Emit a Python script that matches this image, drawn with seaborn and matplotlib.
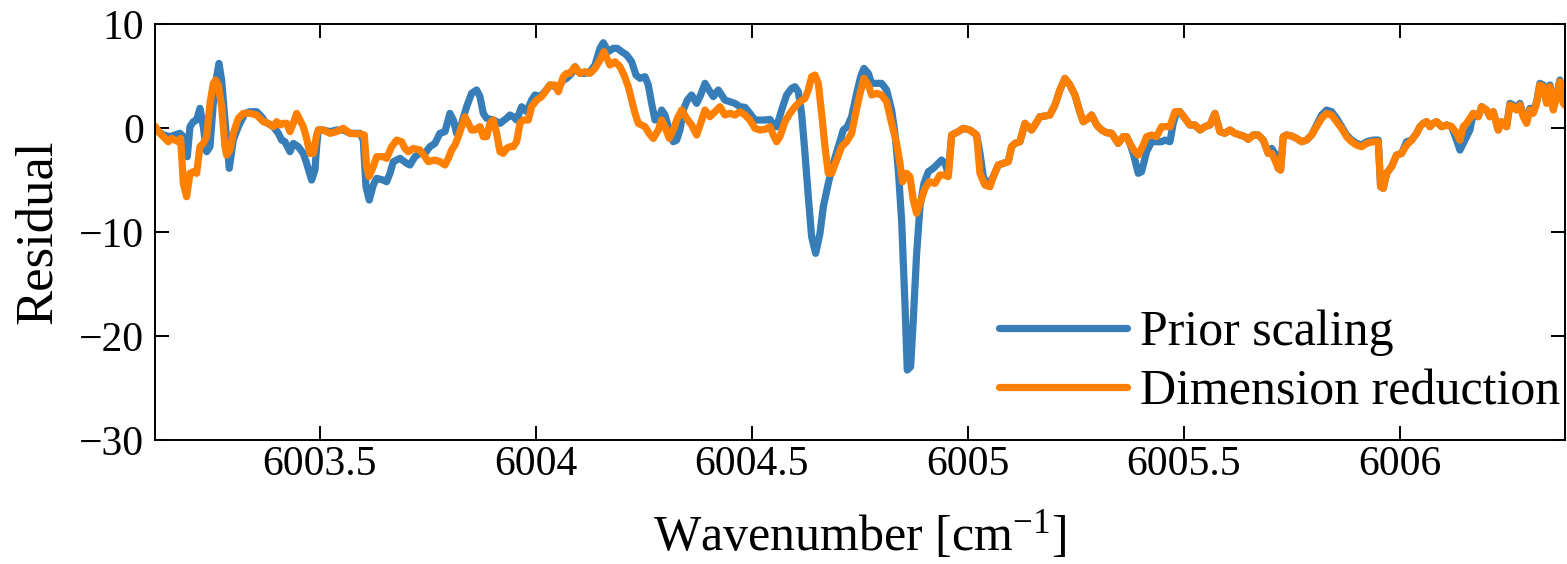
import matplotlib
matplotlib.use("Agg")
import matplotlib.pyplot as plt
import seaborn as sns

# Residual spectra
prior_wn = [
    6003.118, 6003.1373, 6003.1527, 6003.1643, 6003.1758, 6003.1836, 6003.1928, 6003.1990,
    6003.2067, 6003.2144, 6003.2221, 6003.2299, 6003.2376, 6003.2453, 6003.2530, 6003.2607,
    6003.2661, 6003.2723, 6003.2800, 6003.2900, 6003.2993, 6003.3109, 6003.3263, 6003.3379,
    6003.3533, 6003.3649, 6003.3726, 6003.3919, 6003.4035, 6003.4112, 6003.4189, 6003.4305,
    6003.4382, 6003.4498, 6003.4613, 6003.4690, 6003.4806, 6003.4883, 6003.4922, 6003.4961,
    6003.5076, 6003.5231, 6003.5385, 6003.5539, 6003.5694, 6003.5925, 6003.6002, 6003.6064,
    6003.6141, 6003.6234, 6003.6311, 6003.6465, 6003.6542, 6003.6620, 6003.6697, 6003.6851,
    6003.7005, 6003.7082, 6003.7198, 6003.7314, 6003.7430, 6003.7545, 6003.7661, 6003.7777,
    6003.7893, 6003.8008, 6003.8086, 6003.8163, 6003.8279, 6003.8394, 6003.8510, 6003.8626,
    6003.8703, 6003.8780, 6003.8857, 6003.9012, 6003.9166, 6003.9320, 6003.9397, 6003.9475,
    6003.9552, 6003.9668, 6003.9784, 6003.9899, 6003.9976, 6004.0092, 6004.0207, 6004.0323,
    6004.0440, 6004.0555, 6004.0633, 6004.0710, 6004.0826, 6004.0903, 6004.1018, 6004.1134,
    6004.1250, 6004.1366, 6004.1481, 6004.1559, 6004.1674, 6004.1790, 6004.1883, 6004.1983,
    6004.2099, 6004.2214, 6004.2315, 6004.2407, 6004.2523, 6004.2600, 6004.2677, 6004.2755,
    6004.2832, 6004.2909, 6004.2986, 6004.3063, 6004.3179, 6004.3256, 6004.3333, 6004.3410,
    6004.3503, 6004.3603, 6004.3719, 6004.3812, 6004.3912, 6004.4028, 6004.4105, 6004.4221,
    6004.4298, 6004.4375, 6004.4491, 6004.4606, 6004.4722,
    6004.4838, 6004.4953, 6004.5069, 6004.5185, 6004.5301, 6004.5416, 6004.5494, 6004.5571,
    6004.5687, 6004.5802, 6004.5918, 6004.5995, 6004.6072, 6004.6149, 6004.6227, 6004.6304,
    6004.6381, 6004.6474, 6004.6574, 6004.6651, 6004.6767, 6004.6882, 6004.6998, 6004.7114,
    6004.7207, 6004.7307, 6004.7423, 6004.7515, 6004.7592, 6004.7693, 6004.7770, 6004.7886,
    6004.8001, 6004.8117, 6004.8233, 6004.8310, 6004.8387, 6004.8464, 6004.8541, 6004.8595,
    6004.8673, 6004.8734, 6004.8812, 6004.8889, 6004.8981, 6004.9082, 6004.9197, 6004.9313,
    6004.9390, 6004.9467, 6004.9545, 6004.9622, 6004.9776, 6004.9892, 6005.0046, 6005.0200,
    6005.0278, 6005.0355, 6005.0432, 6005.0509,
    6005.0586, 6005.0701, 6005.0817, 6005.0933, 6005.1010, 6005.1087, 6005.1203, 6005.1319,
    6005.1396, 6005.1473, 6005.1550, 6005.1666, 6005.1782, 6005.1897, 6005.2013, 6005.2129,
    6005.2245, 6005.2360, 6005.2476, 6005.2576, 6005.2669, 6005.2785, 6005.2862, 6005.2978,
    6005.3093, 6005.3209, 6005.3325, 6005.3402, 6005.3479, 6005.3595, 6005.3672, 6005.3749,
    6005.3826, 6005.3942, 6005.4019, 6005.4135, 6005.4251, 6005.4366, 6005.4482, 6005.4559,
    6005.4675, 6005.4752, 6005.4829, 6005.4907, 6005.5022, 6005.5138, 6005.5254, 6005.5370,
    6005.5485, 6005.5601, 6005.5717, 6005.5833, 6005.5948, 6005.6064, 6005.6180, 6005.6295,
    6005.6411, 6005.6488, 6005.6604, 6005.6720, 6005.6836, 6005.6951,
    6005.7029, 6005.7106, 6005.7183, 6005.7237, 6005.7299, 6005.7376, 6005.7492, 6005.7608,
    6005.7724, 6005.7839, 6005.7955, 6005.8071, 6005.8186, 6005.8302, 6005.8418, 6005.8534,
    6005.8649, 6005.8765, 6005.8881, 6005.8997, 6005.9112, 6005.9228, 6005.9382, 6005.9498,
    6005.9552, 6005.9614, 6005.9691, 6005.9807, 6005.9923, 6006.0038, 6006.0154, 6006.0270,
    6006.0386, 6006.0463, 6006.0540, 6006.0617, 6006.0694, 6006.0771, 6006.0849, 6006.0964,
    6006.1080, 6006.1196, 6006.1311, 6006.1389, 6006.1466, 6006.1543, 6006.1620, 6006.1697,
    6006.1813, 6006.1890, 6006.2006, 6006.2083, 6006.2160, 6006.2276, 6006.2353, 6006.2469,
    6006.2546, 6006.2623, 6006.2700, 6006.2778, 6006.2855, 6006.2932, 6006.3009, 6006.3086,
    6006.3163, 6006.3240, 6006.3318, 6006.3395, 6006.3472, 6006.3549, 6006.3626, 6006.3703,
    6006.3781, 6006.3858,
]
prior_res = [
    -0.10, -0.65, -0.81, -0.65, -0.49, -0.81, -2.74, 0.15,
    0.63, 0.79, 1.91, 0.15, -2.26, -1.78, 2.39, 4.96,
    6.24, 4.64, 0.79, -3.86, -1.14, 0.15, 1.43, 1.59,
    1.59, 1.11, 0.63, 0.15, -0.49, -1.14, -1.30, -2.26,
    -1.46, -1.78, -2.42, -3.38, -4.99, -4.02, -1.78, -0.17,
    -0.17, -0.33, -0.17, -0.17, -0.49, -0.49, -1.14, -5.63,
    -6.91, -5.47, -4.82, -4.99, -5.15, -4.34, -3.22, -2.90,
    -3.38, -3.54, -2.74, -2.42, -2.42, -1.78, -1.46, -0.49,
    -0.33, 1.43, 0.79, -0.49, 0.47, 2.07, 3.36, 3.68,
    3.04, 1.43, 0.95, 0.79, 0.47, 0.95, 1.27, 1.11,
    0.79, 2.07, 1.59, 2.71, 3.20, 3.04, 3.52, 4.16,
    4.00, 4.16, 4.64, 4.80, 5.28, 5.92, 5.28, 5.28,
    5.44, 6.08, 7.69, 8.23, 7.37, 7.69, 7.69, 7.37,
    7.05, 6.40, 5.12, 4.80, 4.96, 4.16, 2.39, 0.79,
    0.79, 1.75, 1.27, 0.15, -1.30, -1.14, -0.17, 1.75,
    2.71, 3.20, 2.39, 3.20, 4.32, 3.52, 3.04, 3.68,
    3.20, 2.71, 2.55, 2.39, 2.07,
    2.01, 1.43, 0.79, 0.79, 0.79, 0.85, 0.31, 0.15,
    1.75, 3.20, 3.84, 4.00, 3.52, 1.43, -2.42, -6.59,
    -10.44, -12.04, -10.12, -7.55, -5.31, -3.38, -1.78, -0.17,
    0.15, 1.11, 3.36, 4.96, 5.76, 5.28, 4.32, 4.32,
    4.32, 3.68, 1.75, -0.49, -4.02, -8.84, -16.86, -23.27,
    -22.95, -18.46, -12.04, -7.55, -5.31, -4.18, -3.86, -3.38,
    -3.06, -3.38, -4.34, -0.65, -0.33, -0.01, -0.17, -0.65,
    -2.42, -4.66, -5.31, -5.15,
    -4.66, -3.54, -3.38, -3.22, -1.78, -1.46, -1.30, 0.47,
    0.15, -0.17, 0.31, 1.11, 1.17, 1.27, 2.23, 3.68,
    4.80, 4.16, 3.20, 1.75, 0.63, 0.95, 1.27, 0.31,
    -0.17, -0.43, -0.49, -0.98, -1.46, -0.81, -0.81, -1.46,
    -2.42, -4.34, -4.18, -2.26, -1.30, -1.30, -1.30, -1.14,
    -1.30, 0.47, 1.59, 1.59, 0.95, 0.31, 0.31, -0.17,
    0.15, 0.31, 1.43, -0.33, -0.49, -0.17, -0.49, -0.65,
    -0.81, -1.07, -0.65, -0.65, -1.14, -2.42,
    -1.94, -2.42, -3.86, -4.02, -0.81, -0.65, -0.75, -0.98,
    -1.30, -1.14, -0.65, 0.31, 1.27, 1.75, 1.59, 0.95,
    0.15, -0.65, -1.14, -1.46, -1.62, -1.30, -1.14, -1.14,
    -5.63, -5.79, -4.34, -3.70, -2.58, -2.42, -1.30, -1.14,
    -0.49, 0.15, 0.47, 0.63, 0.15, 0.47, 0.63, 0.15,
    0.31, 0.15, -1.14, -2.10, -1.46, -0.81, -0.17, 1.43,
    1.11, 2.07, 1.75, 1.11, 1.59, -0.17, 0.63, 0.15,
    2.39, 2.23, 1.91, 2.39, 1.27, 0.63, 1.91, 1.59,
    2.55, 4.32, 4.16, 2.55, 4.16, 1.91, 3.20, 4.64,
    2.55, 2.23,
]

dimred_wn = [
    6003.118, 6003.1295, 6003.1411, 6003.1488, 6003.1566, 6003.1643, 6003.1720, 6003.1774,
    6003.1836, 6003.1913, 6003.1990, 6003.2067, 6003.2144, 6003.2221, 6003.2299, 6003.2376,
    6003.2453, 6003.2530, 6003.2584, 6003.2646, 6003.2723, 6003.2800, 6003.2839, 6003.2916,
    6003.2993, 6003.3109, 6003.3225, 6003.3379, 6003.3533, 6003.3687, 6003.3803, 6003.3919,
    6003.3996, 6003.4073, 6003.4150, 6003.4228, 6003.4305, 6003.4382, 6003.4459, 6003.4536,
    6003.4613, 6003.4690, 6003.4768, 6003.4845, 6003.4922, 6003.4961, 6003.5076, 6003.5231,
    6003.5385, 6003.5539, 6003.5694, 6003.5925, 6003.6025, 6003.6079, 6003.6133, 6003.6234,
    6003.6311, 6003.6465, 6003.6542, 6003.6658, 6003.6774, 6003.6890, 6003.6967, 6003.7044,
    6003.7160, 6003.7314, 6003.7430, 6003.7507, 6003.7661, 6003.7777, 6003.7893, 6003.7970,
    6003.8047, 6003.8124, 6003.8201, 6003.8279, 6003.8356, 6003.8433, 6003.8510, 6003.8587,
    6003.8703, 6003.8780, 6003.8857, 6003.8934, 6003.9012, 6003.9089, 6003.9166, 6003.9243,
    6003.9320, 6003.9397, 6003.9475, 6003.9552, 6003.9629, 6003.9706, 6003.9822, 6003.9899,
    6004.0015, 6004.0130, 6004.0246, 6004.0323,
    6004.0440, 6004.0517, 6004.0633, 6004.0710, 6004.0787, 6004.0903, 6004.1018, 6004.1134,
    6004.1250, 6004.1366, 6004.1481, 6004.1574, 6004.1713, 6004.1829, 6004.1944, 6004.2037,
    6004.2137, 6004.2214, 6004.2292, 6004.2369, 6004.2523, 6004.2616, 6004.2716, 6004.2832,
    6004.2909, 6004.2986, 6004.3086, 6004.3179, 6004.3272, 6004.3372, 6004.3488, 6004.3603,
    6004.3719, 6004.3812, 6004.3912, 6004.4028, 6004.4144, 6004.4259, 6004.4375, 6004.4491,
    6004.4606, 6004.4722,
    6004.4838, 6004.4953, 6004.5069, 6004.5185, 6004.5301, 6004.5416, 6004.5494, 6004.5571,
    6004.5648, 6004.5764, 6004.5879, 6004.5995, 6004.6111, 6004.6227, 6004.6304, 6004.6381,
    6004.6458, 6004.6535, 6004.6612, 6004.6690, 6004.6767, 6004.6844, 6004.6960, 6004.7075,
    6004.7191, 6004.7307, 6004.7384, 6004.7484, 6004.7592, 6004.7693, 6004.7770, 6004.7886,
    6004.8001, 6004.8117, 6004.8233, 6004.8349, 6004.8426, 6004.8487, 6004.8580, 6004.8657,
    6004.8734, 6004.8812, 6004.8889, 6004.9004, 6004.9105, 6004.9236, 6004.9352, 6004.9444,
    6004.9545, 6004.9622, 6004.9776, 6004.9892, 6005.0046, 6005.0200, 6005.0278, 6005.0393,
    6005.0509,
    6005.0586, 6005.0701, 6005.0817, 6005.0933, 6005.1010, 6005.1087, 6005.1203, 6005.1319,
    6005.1396, 6005.1473, 6005.1550, 6005.1666, 6005.1782, 6005.1897, 6005.2013, 6005.2129,
    6005.2245, 6005.2360, 6005.2476, 6005.2576, 6005.2669, 6005.2785, 6005.2862, 6005.2978,
    6005.3093, 6005.3209, 6005.3325, 6005.3402, 6005.3479, 6005.3595, 6005.3672, 6005.3749,
    6005.3865, 6005.3942, 6005.4058, 6005.4135, 6005.4251, 6005.4366, 6005.4482, 6005.4598,
    6005.4675, 6005.4791, 6005.4907, 6005.5022, 6005.5138, 6005.5254, 6005.5370, 6005.5485,
    6005.5601, 6005.5717, 6005.5833, 6005.5948, 6005.6064, 6005.6180, 6005.6295, 6005.6411,
    6005.6488, 6005.6604, 6005.6720, 6005.6836, 6005.6951,
    6005.7029, 6005.7106, 6005.7183, 6005.7237, 6005.7299, 6005.7376, 6005.7492, 6005.7608,
    6005.7724, 6005.7839, 6005.7955, 6005.8071, 6005.8186, 6005.8302, 6005.8418, 6005.8534,
    6005.8649, 6005.8765, 6005.8881, 6005.8997, 6005.9112, 6005.9228, 6005.9382, 6005.9498,
    6005.9552, 6005.9614, 6005.9691, 6005.9807, 6005.9923, 6006.0038, 6006.0154, 6006.0270,
    6006.0386, 6006.0463, 6006.0540, 6006.0617, 6006.0694, 6006.0771, 6006.0849, 6006.0964,
    6006.1080, 6006.1196, 6006.1311, 6006.1389, 6006.1466, 6006.1543, 6006.1620, 6006.1697,
    6006.1813, 6006.1890, 6006.2006, 6006.2083, 6006.2160, 6006.2276, 6006.2353, 6006.2469,
    6006.2546, 6006.2623, 6006.2700, 6006.2778, 6006.2855, 6006.2932, 6006.3009, 6006.3086,
    6006.3163, 6006.3240, 6006.3318, 6006.3395, 6006.3472, 6006.3549, 6006.3626, 6006.3703,
    6006.3781, 6006.3858,
]
dimred_res = [
    0.20, -0.49, -0.98, -1.30, -0.98, -1.14, -1.30, -0.98,
    -5.31, -6.59, -4.34, -4.18, -4.34, -1.78, -1.46, -0.81,
    2.39, 4.32, 4.64, 4.16, 2.07, -1.78, -2.58, -2.10,
    -0.49, 0.95, 1.43, 1.43, 1.27, 0.63, 0.47, 0.15,
    0.63, 0.31, 0.47, 0.47, -0.33, 0.47, 1.43, 0.79,
    0.15, -0.98, -2.42, -2.42, -0.65, -0.17, -0.17, -0.49,
    -0.33, -0.01, -0.49, -0.56, -0.65, -3.70, -4.66, -3.70,
    -2.74, -2.74, -2.90, -1.78, -1.14, -1.30, -1.94, -2.26,
    -1.94, -2.10, -2.74, -3.22, -3.06, -3.22, -3.54, -2.90,
    -2.10, -1.62, -0.81, 0.15, 1.11, 0.47, -0.17, -0.17,
    0.15, -0.81, -0.81, 0.47, 0.79, -0.49, -2.26, -2.42,
    -1.94, -1.78, -1.78, -1.30, 0.47, 0.79, 0.79, 2.07,
    2.71, 3.04, 3.68, 4.16,
    4.16, 3.52, 4.96, 5.28, 5.28, 5.92, 5.28, 5.44,
    5.28, 5.76, 6.56, 7.37, 6.08, 6.40, 5.92, 5.12,
    4.00, 2.71, 1.43, 0.47, 0.15, -0.49, -0.98, -0.17,
    0.79, 0.15, -0.98, -0.17, 0.95, 1.75, 0.95, 0.31,
    -0.65, 0.47, 1.75, 1.11, 1.59, 2.07, 1.27, 1.43,
    1.27, 1.59,
    1.27, 0.79, -0.01, -0.17, -0.11, 0.15, -0.65, -1.30,
    -0.81, 0.63, 1.43, 2.07, 2.55, 2.87, 3.68, 4.96,
    5.12, 4.32, 1.43, -1.78, -4.34, -4.34, -3.06, -1.78,
    -1.30, -0.49, 1.11, 3.04, 4.80, 4.16, 3.20, 3.36,
    3.20, 2.55, 0.47, -1.46, -3.38, -5.15, -4.34, -4.66,
    -6.91, -8.19, -7.23, -5.79, -5.15, -5.31, -4.50, -4.50,
    -4.66, -0.65, -0.33, -0.01, -0.17, -0.65, -4.34, -5.47,
    -5.63,
    -4.66, -3.54, -3.38, -3.22, -1.78, -1.46, -1.30, 0.47,
    0.15, -0.17, 0.31, 1.11, 1.17, 1.27, 2.23, 3.68,
    4.80, 4.16, 3.20, 1.75, 0.63, 0.95, 1.27, 0.31,
    -0.17, -0.43, -0.49, -0.98, -1.46, -0.81, -0.81, -1.46,
    -2.26, -2.58, -1.62, -0.81, -0.65, -0.81, 0.15, 0.15,
    0.15, 1.59, 1.59, 0.95, 0.31, 0.31, -0.17, 0.15,
    0.31, 1.43, -0.33, -0.49, -0.17, -0.49, -0.65, -0.81,
    -1.07, -0.65, -0.65, -1.14, -2.42,
    -2.42, -3.06, -3.86, -4.02, -0.81, -0.65, -0.75, -0.98,
    -1.30, -1.14, -0.65, 0.15, 0.95, 1.43, 1.27, 0.63,
    -0.01, -0.81, -1.30, -1.62, -1.78, -1.46, -1.30, -1.30,
    -5.63, -5.79, -4.34, -3.70, -2.58, -2.42, -1.62, -1.14,
    -0.49, 0.15, 0.47, 0.63, 0.15, 0.47, 0.63, 0.15,
    0.31, 0.15, -0.49, -1.14, 0.15, 0.47, 0.95, 1.43,
    1.11, 2.07, 1.75, 1.11, 1.59, -0.17, 0.63, 0.15,
    2.23, 2.07, 1.75, 2.23, 1.11, 0.47, 1.75, 1.43,
    2.39, 4.16, 4.00, 2.39, 4.00, 1.75, 3.04, 4.48,
    2.39, 2.07,
]

xtick_vals = [6003.5, 6004, 6004.5, 6005, 6005.5, 6006]
xtick_labels = ["6003.5", "6004", "6004.5", "6005", "6005.5", "6006"]
ytick_vals = [-30, -20, -10, 0, 10]

sns.set_style("ticks")
plt.rcParams['font.family'] = ['Liberation Serif', 'DejaVu Serif']
plt.rcParams['mathtext.fontset'] = 'custom'
plt.rcParams['mathtext.rm'] = 'Liberation Serif'
plt.rcParams['mathtext.it'] = 'Liberation Serif:italic'
plt.rcParams['axes.unicode_minus'] = True
plt.rcParams['text.color'] = 'black'
plt.rcParams['axes.labelcolor'] = 'black'

fig = plt.figure(figsize=(15.67, 5.64), dpi=100)
ax = fig.add_axes([0.0989, 0.2199, 0.8998, 0.7370])

sns.lineplot(x=prior_wn, y=prior_res, ax=ax, color='#377eb8', lw=5.2,
             label='Prior scaling', estimator=None, sort=False)
sns.lineplot(x=dimred_wn, y=dimred_res, ax=ax, color='#ff7f00', lw=5.2,
             label='Dimension reduction', estimator=None, sort=False)

ax.set_xlim(6003.118, 6006.382)
ax.set_ylim(-30, 10)
ax.set_xticks(xtick_vals)
ax.set_xticklabels(xtick_labels)
ax.set_yticks(ytick_vals)
ax.tick_params(direction='in', top=True, right=True, length=10, width=1.4,
               labelsize=30, colors='black')
ax.tick_params(axis='x', pad=4)
ax.tick_params(axis='y', pad=8)
for sp in ax.spines.values():
    sp.set_visible(True)
    sp.set_linewidth(1.4)
    sp.set_color('black')

ax.set_xlabel(r"Wavenumber [cm$^{-1}$]", fontsize=36, labelpad=18)
ax.set_ylabel("Residual", fontsize=38, labelpad=12)

ax.legend(loc='lower right', bbox_to_anchor=(0.9965, 0.06), frameon=False,
          fontsize=36, borderpad=0, borderaxespad=0, handlelength=2.55,
          handletextpad=0.26, labelspacing=0.25)

fig.savefig("out.png", dpi=100)
